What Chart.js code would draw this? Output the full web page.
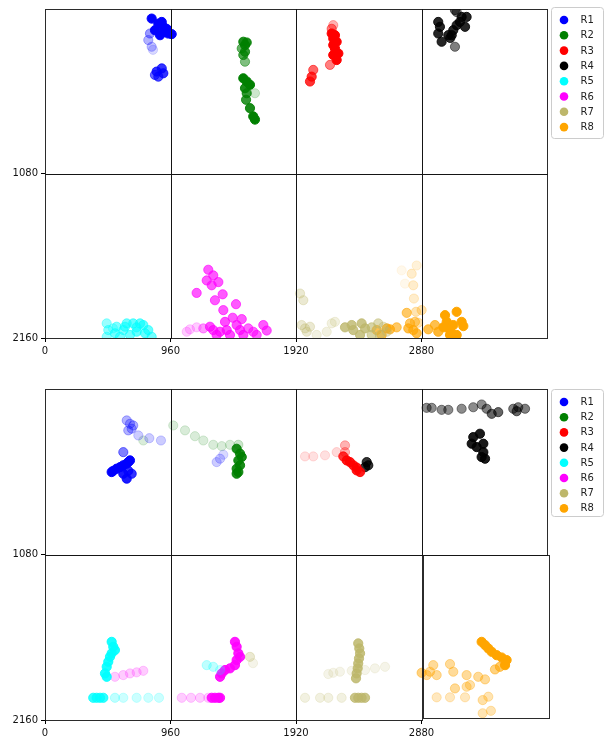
<!DOCTYPE html>
<html>
<head>
<meta charset="utf-8">
<script src="https://cdn.jsdelivr.net/npm/chart.js@4/dist/chart.umd.min.js"></script>
<style>
  html, body { margin: 0; padding: 0; background: #fff; }
  #wrap { position: relative; width: 608px; height: 737px; }
  canvas { position: absolute; left: 0; }
</style>
</head>
<body>
<div id="wrap">
  <canvas id="chartTop" width="608" height="369" style="top:0"></canvas>
  <canvas id="chartBottom" width="608" height="368" style="top:369px"></canvas>
</div>
<script>
// ---- axes ----
const X_TICKS = [0, 960, 1920, 2880];
const Y_TICKS = [1080, 2160];
const SERIES = ['R1', 'R2', 'R3', 'R4', 'R5', 'R6', 'R7', 'R8'];
const SERIES_RGB = ['0,0,255', '0,128,0', '255,0,0', '0,0,0', '0,255,255', '255,0,255', '189,183,107', '255,165,0'];

// ---- region outlines [x0, y0, x1, y1] in frame pixels ----
const TOP_REGIONS = [[0,0,960,1080],[960,0,1920,1080],[1920,0,2880,1080],[2880,0,3840,1080],
  [0,1080,960,2160],[960,1080,1920,2160],[1920,1080,2880,2160],[2880,1080,3840,2160]];
const BOT_REGIONS = [[0,0,960,1080],[960,0,1920,1080],[1920,0,2880,1080],[2880,0,3840,1080],
  [0,1080,960,2160],[960,1080,1920,2160],[1920,1080,2880,2160],[2890,1080,3852,2150]];

// ---- upper panel: positions [x, y] and per-point opacity ----
const topR1 = [[816,63],[867,96],[893,85],[905,117],[943,161],[969,165],[880,172],[841,139],[930,130],[918,150],
  [803,161],[790,204],[816,248],[826,268],[854,411],[893,390],[905,422],[867,444],[841,433]];
const topR1Alpha = [1,1,1,1,1,1,1,1,1,1, 0.4,0.3,0.25,0.15, 0.8,0.8,0.8,0.7,0.6];

const topR2 = [[1517,215],[1530,237],[1505,259],[1530,281],[1517,302],[1530,346],[1543,220],
  [1517,455],[1543,476],[1568,498],[1530,520],[1543,553],[1538,596],[1568,651],[1593,705],[1606,726],[1606,553]];
const topR2Alpha = [0.9,0.9,0.6,0.8,0.7,0.5,0.9, 1,1,1,0.9,0.8,0.8,0.9,1,1,0.2];

const topR3 = [[2205,106],[2193,161],[2218,172],[2205,194],[2231,215],[2205,237],[2218,259],[2244,292],[2205,302],
  [2231,335],[2180,367],[2052,400],[2040,444],[2027,476],[2193,130]];
const topR3Alpha = [0.3,1,1,1,1,1,1,1,1,1,0.5,0.6,0.8,0.8,0.5];

const topR4 = [[3008,85],[3021,117],[3008,161],[3034,215],[3085,172],[3111,172],[3123,139],[3149,106],[3174,85],
  [3187,52],[3225,52],[3213,117],[3149,20],[3136,248],[3136,7],[3100,190]];
const topR4Alpha = [0.85,0.85,0.85,0.85,0.85,0.85,0.85,0.85,0.85,0.85,0.85,0.85,0.5,0.5,0.6,0.8];

const topR5 = [[472,2064],[484,2108],[548,2086],[535,2129],[612,2086],[625,2064],[675,2064],[727,2064],[752,2075],
  [790,2108],[765,2129],[701,2119],[650,2140],[574,2152],[472,2152],[816,2152],[600,2108],[700,2090],[520,2097]];
const topR5Alpha = [0.4,0.45,0.5,0.55,0.55,0.55,0.6,0.6,0.6,0.6,0.6,0.6,0.55,0.5,0.4,0.55,0.5,0.55,0.3];

const topR6 = [[1249,1712],[1287,1749],[1237,1782],[1275,1814],[1326,1793],[1160,1864],[1359,1873],[1300,1912],
  [1461,1938],[1364,1977],[1436,2027],[1505,2036],[1377,2054],[1466,2075],[1262,2086],[1287,2108],[1339,2119],
  [1390,2108],[1492,2108],[1555,2097],[1593,2119],[1670,2075],[1696,2111],[1109,2103],[1084,2119],[1160,2090],
  [1211,2097],[1313,2140],[1415,2140],[1517,2140],[1619,2140]];
const topR6Alpha = [0.65,0.65,0.65,0.65,0.65,0.65,0.65,0.65,0.65,0.65,0.65,0.65,0.7,0.7,0.7,0.7,0.7,0.7,0.7,0.6,0.6,
  0.65,0.65,0.2,0.2,0.2,0.4,0.7,0.7,0.7,0.6];

const topR7 = [[1951,1868],[1976,1912],[1963,2075],[1989,2097],[2027,2086],[2002,2119],[2078,2140],[2155,2119],
  [2193,2064],[2218,2054],[2295,2090],[2346,2075],[2358,2108],[2422,2064],[2448,2097],[2499,2090],[2549,2064],
  [2588,2086],[2614,2119],[2410,2140],[2499,2140],[2562,2140]];
const topR7Alpha = [0.3,0.3,0.3,0.3,0.3,0.3,0.2,0.2,0.2,0.2,0.8,0.8,0.8,0.8,0.8,0.6,0.5,0.4,0.4,0.8,0.6,0.5];

const topR8 = [[2843,1684],[2805,1738],[2728,1716],[2817,1814],[2754,1803],[2822,1901],[2767,1995],[2838,1988],
  [2881,1977],[2830,2054],[2792,2064],[2855,2060],[2779,2097],[2817,2108],[2843,2129],[2690,2090],[2639,2103],
  [2614,2097],[2537,2108],[2575,2140],[2932,2103],[2983,2075],[3008,2119],[3060,2010],[3149,1988],[3073,2054],
  [3123,2075],[3187,2054],[3200,2082],[3098,2108],[3047,2090],[3149,2140],[3098,2140]];
const topR8Alpha = [0.15,0.2,0.08,0.2,0.08,0.2,0.6,0.3,0.3,0.5,0.6,0.3,0.7,0.7,0.7,0.6,0.7,0.8,0.7,0.7,0.7,0.7,0.8,
  1,1,1,1,1,1,1,1,1,1];

// ---- lower panel ----
const botR1 = [[625,205],[650,227],[663,259],[637,270],[675,238],[714,303],[798,321],[887,336],
  [599,412],[522,534],[548,520],[574,510],[599,498],[625,487],[637,477],[650,466],[510,542],[599,553],[625,585],
  [663,553],[637,534],[1313,477],[1339,455],[1364,429]];
const botR1Alpha = [0.3,0.3,0.3,0.3,0.3,0.2,0.2,0.2, 0.5,1,1,1,1,1,1,1,1,0.9,0.9,0.8,0.8, 0.2,0.2,0.15];

const botR2 = [[752,336],[981,238],[1071,270],[1147,308],[1211,336],[1287,364],[1352,373],[1415,364],[1479,364],
  [1466,390],[1492,422],[1505,444],[1479,466],[1492,498],[1466,520],[1479,542],[1466,553]];
const botR2Alpha = [0.15,0.15,0.15,0.15,0.15,0.15,0.15,0.15,0.2, 0.9,0.9,0.9,0.9,0.9,0.9,0.9,0.9];

const botR3 = [[1989,440],[2052,440],[2142,433],[2231,412],[2295,368],[2295,412],[2282,440],[2308,466],[2333,477],
  [2359,498],[2384,513],[2410,542],[2384,531]];
const botR3Alpha = [0.12,0.12,0.12,0.15,0.3,0.3,0.8,0.9,0.9,0.9,0.9,0.9,0.9];

const botR4 = [[2919,123],[2958,123],[3034,136],[3085,136],[3187,129],[3276,119],[3340,101],[3378,129],[3417,162],
  [3467,151],[3582,129],[3620,119],[3672,129],[3608,145],
  [3276,314],[3327,292],[3264,357],[3353,357],[3302,379],[3353,412],[3340,444],[3366,455],
  [2461,477],[2473,498],[2448,510]];
const botR4Alpha = [0.45,0.45,0.45,0.45,0.45,0.45,0.45,0.5,0.6,0.6,0.5,0.5,0.5,0.6,
  0.9,0.9,0.9,0.9,0.9,0.9,0.9,0.9, 0.8,0.8,0.8];

const botR5 = [[510,1650],[522,1682],[535,1704],[510,1725],[497,1748],[484,1780],[472,1813],[459,1856],[472,1878],
  [369,2015],[395,2015],[421,2015],[446,2015],[535,2015],[599,2015],[701,2015],[790,2015],[872,2015],
  [1237,1802],[1287,1813],[1339,1834]];
const botR5Alpha = [0.9,0.9,0.9,0.9,0.9,0.9,0.9,0.9,0.9, 0.8,0.8,0.8,0.8,0.25,0.2,0.2,0.2,0.2, 0.25,0.25,0.2];

const botR6 = [[1453,1650],[1466,1682],[1479,1725],[1492,1748],[1466,1769],[1453,1802],[1415,1823],[1377,1834],
  [1352,1856],[1339,1878],[1275,2015],[1300,2015],[1326,2015],[1339,2015],[1046,2015],[1117,2015],[1186,2015],
  [1249,2015],[535,1878],[599,1867],[650,1856],[701,1849],[752,1839]];
const botR6Alpha = [0.9,0.9,0.9,0.9,0.9,0.9,0.9,0.9,0.9,0.9, 0.9,0.9,0.9,0.9, 0.2,0.2,0.2,0.2, 0.2,0.2,0.2,0.2,0.2];

const botR7 = [[2396,1660],[2404,1693],[2410,1725],[2402,1758],[2396,1791],[2392,1823],[2384,1856],[2379,1888],
  [1989,2015],[2104,2015],[2167,2015],[2269,2015],[2371,2015],[2396,2015],[2422,2015],[2448,2015],
  [2167,1860],[2205,1852],[2256,1845],[2346,1839],[2448,1834],[2524,1823],[2601,1813],[1568,1748],[1591,1789]];
const botR7Alpha = [0.85,0.85,0.85,0.85,0.85,0.85,0.85,0.85, 0.2,0.2,0.2,0.2,0.8,0.8,0.8,0.8,
  0.15,0.15,0.15,0.15,0.15,0.15,0.15,0.3,0.15];

const botR8 = [[3340,1650],[3366,1671],[3391,1693],[3417,1715],[3455,1737],[3493,1752],[3531,1769],[3519,1802],
  [3480,1813],[3442,1830],[2881,1852],[2920,1867],[2945,1845],[2970,1802],[2996,1867],[3098,1795],[3123,1845],
  [3225,1867],[3314,1878],[3366,1895],[3251,1932],[3136,1954],[3225,1943],[2996,2012],[3098,2012],[3213,2012],
  [3348,2030],[3391,2008],[3348,2116],[3411,2100]];
const botR8Alpha = [1,1,1,1,1,1,1,1,0.6,0.5, 0.5,0.4,0.4,0.4,0.4,0.4,0.4,0.4,0.4,0.4,0.35,0.4,0.35,
  0.25,0.25,0.25,0.35,0.3,0.3,0.3];

const TOP_POINTS = [topR1, topR2, topR3, topR4, topR5, topR6, topR7, topR8];
const TOP_ALPHA = [topR1Alpha, topR2Alpha, topR3Alpha, topR4Alpha, topR5Alpha, topR6Alpha, topR7Alpha, topR8Alpha];
const BOT_POINTS = [botR1, botR2, botR3, botR4, botR5, botR6, botR7, botR8];
const BOT_ALPHA = [botR1Alpha, botR2Alpha, botR3Alpha, botR4Alpha, botR5Alpha, botR6Alpha, botR7Alpha, botR8Alpha];

const FONT = { family: 'DejaVu Sans', size: 10 };

function buildDatasets(pointSets, alphaSets) {
  return SERIES.map((name, i) => {
    const fills = alphaSets[i].map(a => `rgba(${SERIES_RGB[i]},${a})`);
    return {
      label: name,
      keyColor: `rgb(${SERIES_RGB[i]})`,
      data: pointSets[i].map(([x, y]) => ({ x, y })),
      backgroundColor: fills,
      borderColor: fills,
      borderWidth: 1,
      pointRadius: 4.6,
      pointHoverRadius: 4.6,
      clip: 0
    };
  });
}

// Region outlines, placed through the chart's own x/y scales
const regionOutlines = {
  id: 'regionOutlines',
  afterDatasetsDraw(chart, args, o) {
    const { ctx } = chart;
    const sx = chart.scales.x, sy = chart.scales.y;
    const snap = v => Math.round(v) + 0.5;
    ctx.save();
    ctx.strokeStyle = 'rgba(20,20,20,0.9)';
    ctx.lineWidth = 1;
    o.boxes.forEach(([x0, y0, x1, y1]) => {
      const l = snap(sx.getPixelForValue(x0)), r = snap(sx.getPixelForValue(x1));
      const t = snap(sy.getPixelForValue(y0)), b = snap(sy.getPixelForValue(y1));
      ctx.strokeRect(l, t, r - l, b - t);
    });
    ctx.restore();
  }
};

// Boxed key listing the eight regions
const keyBox = {
  id: 'keyBox',
  afterDraw(chart, args, o) {
    const ctx = chart.ctx;
    ctx.save();
    const r = 3;
    ctx.beginPath();
    ctx.moveTo(o.x + r, o.y);
    ctx.lineTo(o.x + o.w - r, o.y);
    ctx.quadraticCurveTo(o.x + o.w, o.y, o.x + o.w, o.y + r);
    ctx.lineTo(o.x + o.w, o.y + o.h - r);
    ctx.quadraticCurveTo(o.x + o.w, o.y + o.h, o.x + o.w - r, o.y + o.h);
    ctx.lineTo(o.x + r, o.y + o.h);
    ctx.quadraticCurveTo(o.x, o.y + o.h, o.x, o.y + o.h - r);
    ctx.lineTo(o.x, o.y + r);
    ctx.quadraticCurveTo(o.x, o.y, o.x + r, o.y);
    ctx.closePath();
    ctx.fillStyle = 'rgba(255,255,255,0.8)';
    ctx.fill();
    ctx.strokeStyle = '#cccccc';
    ctx.lineWidth = 1;
    ctx.stroke();
    ctx.font = '10px "DejaVu Sans"';
    ctx.textBaseline = 'middle';
    ctx.textAlign = 'left';
    chart.data.datasets.forEach((ds, i) => {
      const cy = o.rowY + i * o.step;
      ctx.beginPath();
      ctx.arc(o.x + 12.5, cy, 4.3, 0, Math.PI * 2);
      ctx.fillStyle = ds.keyColor;
      ctx.fill();
      ctx.fillStyle = '#222';
      ctx.fillText(ds.label, o.x + 29, cy + 0.5);
    });
    ctx.restore();
  }
};

function makeChart(id, datasets, regions, padTop, xAxisHeight, key) {
  return new Chart(document.getElementById(id), {
    type: 'scatter',
    data: { datasets },
    options: {
      responsive: false,
      animation: false,
      devicePixelRatio: 1,
      events: [],
      layout: { padding: { top: padTop, left: 0, right: 61, bottom: 0 } },
      plugins: {
        legend: { display: false }, tooltip: { enabled: false },
        keyBox: key, regionOutlines: { boxes: regions }
      },
      scales: {
        x: {
          type: 'linear', min: 0, max: 3840,
          afterBuildTicks: s => { s.ticks = X_TICKS.map(v => ({ value: v })); },
          afterFit: s => { s.height = xAxisHeight; },
          border: { display: false },
          grid: { drawOnChartArea: false, drawTicks: true, tickLength: 4, tickColor: '#000', tickWidth: 1 },
          ticks: { color: '#111', font: FONT, padding: 3, maxRotation: 0, autoSkip: false, callback: v => String(v) }
        },
        y: {
          type: 'linear', min: 0, max: 2160, reverse: true,
          afterBuildTicks: s => { s.ticks = Y_TICKS.map(v => ({ value: v })); },
          afterFit: s => { s.width = 45; },
          border: { display: false },
          grid: { drawOnChartArea: false, drawTicks: true, tickLength: 4, tickColor: '#000', tickWidth: 1 },
          ticks: { color: '#111', font: FONT, padding: 3, autoSkip: false, callback: v => String(v) }
        }
      }
    },
    plugins: [regionOutlines, keyBox]
  });
}

makeChart('chartTop', buildDatasets(TOP_POINTS, TOP_ALPHA), TOP_REGIONS, 7, 31,
  { x: 551.5, y: 7.5, w: 52, h: 131, rowY: 20, step: 15.3 });
makeChart('chartBottom', buildDatasets(BOT_POINTS, BOT_ALPHA), BOT_REGIONS, 20, 17,
  { x: 551.5, y: 20.5, w: 52, h: 127, rowY: 33, step: 15.2 });
</script>
</body>
</html>
